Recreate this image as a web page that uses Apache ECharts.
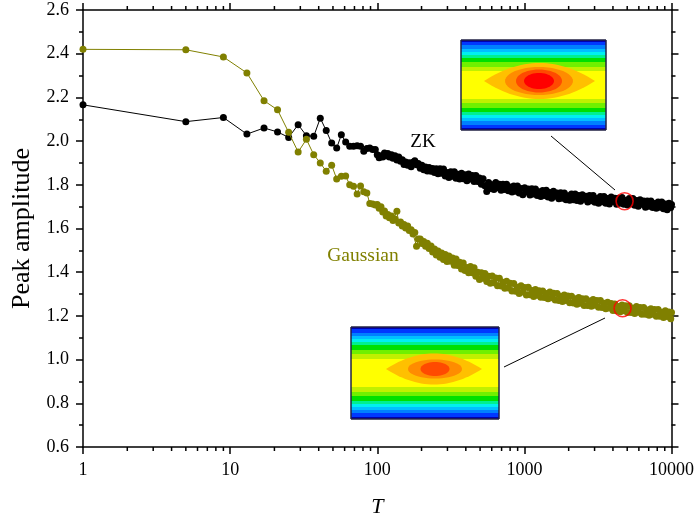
<!DOCTYPE html>
<html><head><meta charset="utf-8">
<script src="https://cdn.jsdelivr.net/npm/echarts@6/dist/echarts.min.js"></script>
<style>html,body{margin:0;padding:0;background:#fff}#c{width:697px;height:523px}</style>
</head><body><div id="c"></div>
<script>
// ---- data ----
const tEarly = [1,5,9,13,17,21,25,29,33,37,41,45,49,53,57,61,65,69,73,77,81,85,89,93,97];
const zkEarly = [2.166,2.089,2.108,2.032,2.060,2.042,2.017,2.075,2.025,2.022,2.105,2.048,1.991,1.968,2.029,1.996,1.976,1.976,1.979,1.976,1.953,1.966,1.968,1.961,1.962];
const gaussEarly = [2.420,2.418,2.385,2.312,2.185,2.143,2.040,1.950,2.008,1.938,1.900,1.862,1.890,1.827,1.839,1.840,1.800,1.793,1.758,1.795,1.768,1.763,1.714,1.712,1.708];
const tDense = [100,103,106,109,112,115,118,121,125,128,
  132,136,140,144,148,152,156,161,165,170,
  175,180,185,190,196,201,207,213,219,225,
  232,238,245,252,259,267,274,282,290,298,
  307,316,325,334,343,353,363,374,384,395,
  407,418,430,443,455,468,482,495,510,524,
  539,555,571,587,604,621,639,657,676,695,
  715,736,757,779,801,824,847,872,897,922,
  949,976,1004,1032,1062,1092,1124,1156,1189,1223,
  1258,1294,1331,1369,1408,1449,1490,1533,1577,1622,
  1668,1716,1765,1816,1868,1921,1976,2033,2091,2151,
  2213,2276,2341,2408,2477,2548,2621,2696,2773,2853,
  2934,3018,3105,3194,3285,3379,3476,3576,3678,3784,
  3892,4003,4118,4236,4357,4482,4610,4742,4878,5018,
  5162,5310,5462,5618,5779,5945,6115,6290,6470,6655,
  6846,7042,7243,7451,7664,7884,8110,8342,8581,8827,
  9080,9340,9608,9883,10000];
const zkDense = [1.938,1.924,1.933,1.927,1.945,1.933,1.943,1.927,1.938,1.922,
  1.933,1.913,1.927,1.908,1.915,1.893,1.904,1.890,1.901,1.883,
  1.903,1.910,1.892,1.897,1.876,1.890,1.869,1.881,1.863,1.879,
  1.862,1.875,1.856,1.874,1.851,1.874,1.853,1.872,1.840,1.856,
  1.833,1.860,1.839,1.860,1.830,1.848,1.826,1.853,1.828,1.846,
  1.819,1.850,1.827,1.842,1.815,1.842,1.815,1.831,1.803,1.828,
  1.796,1.769,1.810,1.783,1.800,1.779,1.810,1.786,1.803,1.775,
  1.803,1.779,1.803,1.773,1.790,1.767,1.795,1.771,1.794,1.762,
  1.783,1.755,1.787,1.767,1.781,1.753,1.782,1.758,1.781,1.751,
  1.768,1.746,1.774,1.751,1.775,1.744,1.765,1.739,1.770,1.748,
  1.763,1.736,1.764,1.739,1.763,1.732,1.750,1.729,1.758,1.732,
  1.758,1.728,1.751,1.725,1.755,1.734,1.748,1.721,1.751,1.727,
  1.751,1.720,1.737,1.716,1.746,1.722,1.746,1.715,1.737,1.712,
  1.744,1.723,1.739,1.711,1.739,1.716,1.742,1.711,1.728,1.707,
  1.737,1.713,1.737,1.706,1.728,1.702,1.732,1.711,1.726,1.697,
  1.726,1.702,1.726,1.696,1.714,1.693,1.721,1.697,1.721,1.690,
  1.712,1.686,1.716,1.696,1.710];
const gaussDense = [1.710,1.693,1.700,1.675,1.680,1.657,1.664,1.649,1.657,1.637,
  1.643,1.679,1.625,1.630,1.611,1.618,1.602,1.611,1.591,1.594,
  1.575,1.582,1.519,1.552,1.552,1.531,1.541,1.519,1.532,1.509,
  1.520,1.493,1.506,1.479,1.497,1.468,1.488,1.458,1.481,1.449,
  1.474,1.450,1.465,1.432,1.460,1.431,1.445,1.415,1.442,1.408,
  1.422,1.397,1.426,1.397,1.420,1.381,1.400,1.367,1.398,1.372,
  1.394,1.357,1.381,1.349,1.383,1.352,1.373,1.338,1.372,1.337,
  1.354,1.326,1.359,1.328,1.349,1.314,1.348,1.313,1.331,1.303,
  1.338,1.309,1.330,1.296,1.331,1.297,1.316,1.289,1.321,1.295,
  1.315,1.285,1.314,1.284,1.303,1.279,1.309,1.283,1.304,1.273,
  1.303,1.271,1.290,1.266,1.296,1.270,1.291,1.260,1.290,1.259,
  1.278,1.253,1.284,1.258,1.279,1.248,1.279,1.248,1.268,1.244,
  1.275,1.249,1.271,1.240,1.271,1.239,1.258,1.233,1.263,1.236,
  1.257,1.225,1.255,1.224,1.243,1.219,1.250,1.224,1.246,1.215,
  1.246,1.215,1.235,1.211,1.243,1.217,1.239,1.208,1.239,1.208,
  1.227,1.203,1.233,1.207,1.229,1.198,1.229,1.198,1.217,1.193,
  1.223,1.197,1.218,1.187,1.215];
const circleT = [4800, 4650];
const circleY = [1.725, 1.235];
const xTicks = [1, 10, 100, 1000, 10000];
const seriesNames = ['ZK', 'Gaussian'];

// ---- chart ----
const FONT = '"Liberation Serif", "DejaVu Serif", serif';
const chart = echarts.init(document.getElementById('c'), null, {renderer: 'canvas'});
const pairs = (t, y) => t.map((v, i) => [v, y[i]]);
const zkData = pairs(tEarly, zkEarly).concat(pairs(tDense, zkDense));
const gaussData = pairs(tEarly, gaussEarly).concat(pairs(tDense, gaussDense));
const circles = pairs(circleT, circleY);

const axLine = {lineStyle: {color: '#000', width: 1.5}};
const axTick = {length: 7, lineStyle: {color: '#000', width: 1.5}};
const minorTick = {show: true, splitNumber: 2, length: 4, lineStyle: {color: '#000', width: 1.5}};
const xBase = {type: 'log', logBase: 10, min: xTicks[0], max: xTicks[xTicks.length - 1], splitLine: {show: false}, axisLine: axLine, axisTick: axTick};
const yBase = {type: 'value', min: 0.6, max: 2.6, interval: 0.2, splitLine: {show: false}, axisLine: axLine, axisTick: axTick, minorTick: minorTick};

chart.setOption({
  animation: false,
  grid: {left: 83, right: 25, top: 10, bottom: 75},
  xAxis: [
    Object.assign({}, xBase, {position: 'bottom',
      axisLabel: {color: '#000', fontFamily: FONT, fontSize: 18, margin: 14, formatter: v => String(Math.round(v))},
      name: 'T', nameLocation: 'middle', nameGap: 49,
      nameTextStyle: {fontFamily: FONT, fontStyle: 'italic', fontSize: 22, color: '#000'}}),
    Object.assign({}, xBase, {position: 'top', axisLabel: {show: false}})
  ],
  yAxis: [
    Object.assign({}, yBase, {position: 'left',
      axisLabel: {color: '#000', fontFamily: FONT, fontSize: 18, margin: 14, formatter: v => v.toFixed(1)},
      name: 'Peak amplitude', nameLocation: 'middle', nameGap: 48,
      nameTextStyle: {fontFamily: FONT, fontSize: 26, color: '#000'}}),
    Object.assign({}, yBase, {position: 'right', axisLabel: {show: false}})
  ],
  series: [
    {name: seriesNames[0], type: 'line', data: zkData, symbol: 'circle', symbolSize: 7,
     itemStyle: {color: '#000'}, lineStyle: {color: '#000', width: 1}, z: 2},
    {name: seriesNames[1], type: 'line', data: gaussData, symbol: 'circle', symbolSize: 7,
     itemStyle: {color: '#808000'}, lineStyle: {color: '#808000', width: 1}, z: 3},
    {type: 'scatter', data: circles, symbol: 'circle', symbolSize: 17,
     itemStyle: {color: 'rgba(0,0,0,0)', borderColor: '#ff0000', borderWidth: 1.6}, z: 5}
  ]
});

// ---- decorations: minor log ticks, insets, connectors, labels ----
const els = [];
const yBot = chart.convertToPixel({yAxisIndex: 0}, 0.6);
const yTop = chart.convertToPixel({yAxisIndex: 0}, 2.6);
for (let d = 1; d < 10000; d *= 10) {
  for (let k = 2; k <= 9; k++) {
    const x = chart.convertToPixel({xAxisIndex: 0}, d * k);
    els.push({type: 'line', shape: {x1: x, y1: yBot, x2: x, y2: yBot + 4}, style: {stroke: '#000', lineWidth: 1.5}, silent: true});
    els.push({type: 'line', shape: {x1: x, y1: yTop, x2: x, y2: yTop - 4}, style: {stroke: '#000', lineWidth: 1.5}, silent: true});
  }
}
const bandCols = ['#0000b0','#0038ff','#0080ff','#00c0ff','#00f0f0','#00f090','#00e000','#70f000','#c0f000'];
const bandEdges = [0, 0.03, 0.065, 0.10, 0.135, 0.165, 0.20, 0.25, 0.30, 0.345];
function bandGradient() {
  const stops = [];
  for (let i = 0; i < bandCols.length; i++) {
    stops.push({offset: bandEdges[i], color: bandCols[i]});
    stops.push({offset: bandEdges[i + 1], color: bandCols[i]});
  }
  stops.push({offset: 0.345, color: '#ffff00'});
  stops.push({offset: 0.655, color: '#ffff00'});
  for (let i = bandCols.length - 1; i >= 0; i--) {
    stops.push({offset: 1 - bandEdges[i + 1], color: bandCols[i]});
    stops.push({offset: 1 - bandEdges[i], color: bandCols[i]});
  }
  return {type: 'linear', x: 0, y: 0, x2: 0, y2: 1, colorStops: stops};
}
function eye(x1, x2, cy, h) {
  const cx = (x1 + x2) / 2, pts = [];
  for (let i = 0; i <= 30; i++) { const t = i / 30; pts.push([(1-t)*(1-t)*x1 + 2*t*(1-t)*cx + t*t*x2, cy - 2*t*(1-t)*2*h]); }
  for (let i = 29; i > 0; i--) { const t = i / 30; pts.push([(1-t)*(1-t)*x1 + 2*t*(1-t)*cx + t*t*x2, cy + 2*t*(1-t)*2*h]); }
  return pts;
}
function ell(cx, cy, rx, ry) {
  const pts = [];
  for (let i = 0; i < 48; i++) { const a = i / 48 * Math.PI * 2; pts.push([cx + rx * Math.cos(a), cy + ry * Math.sin(a)]); }
  return pts;
}
function inset(x, y, w, h, cy, eyeX1, eyeX2, eyeH, rings) {
  els.push({type: 'rect', shape: {x: x, y: y, width: w, height: h}, style: {fill: bandGradient(), stroke: '#222244', lineWidth: 1}, z: 10});
  els.push({type: 'polygon', shape: {points: eye(eyeX1, eyeX2, cy, eyeH)}, style: {fill: '#ffc000'}, z: 12});
  rings.forEach((r, i) => els.push({type: 'polygon', shape: {points: ell(r[0], cy, r[1], r[2])}, style: {fill: r[3]}, z: 13 + i}));
  els.push({type: 'rect', shape: {x: x, y: y, width: w, height: h}, style: {fill: null, stroke: '#222244', lineWidth: 1}, z: 20});
}
inset(461, 40, 145, 90, 81, 484, 595, 18, [[539, 34, 14, '#ff8c00'], [539, 23, 11.5, '#ff4a00'], [539, 15, 8, '#ff0000']]);
inset(351, 327, 148, 92, 369, 386, 482, 15.5, [[435, 27, 9.5, '#ff8c00'], [435, 14.5, 7, '#ff4a00']]);
els.push({type: 'line', shape: {x1: 551, y1: 136, x2: 615, y2: 190}, style: {stroke: '#000', lineWidth: 1}, z: 9});
els.push({type: 'line', shape: {x1: 504, y1: 367, x2: 605, y2: 318}, style: {stroke: '#000', lineWidth: 1}, z: 9});
els.push({type: 'text', x: 423, y: 142, style: {text: seriesNames[0], font: '19px ' + FONT, fill: '#000', align: 'center', verticalAlign: 'middle'}, z: 9});
els.push({type: 'text', x: 363, y: 256, style: {text: seriesNames[1], font: '19.5px ' + FONT, fill: '#808000', align: 'center', verticalAlign: 'middle'}, z: 9});
chart.setOption({graphic: {elements: els}});
</script>
</body></html>
